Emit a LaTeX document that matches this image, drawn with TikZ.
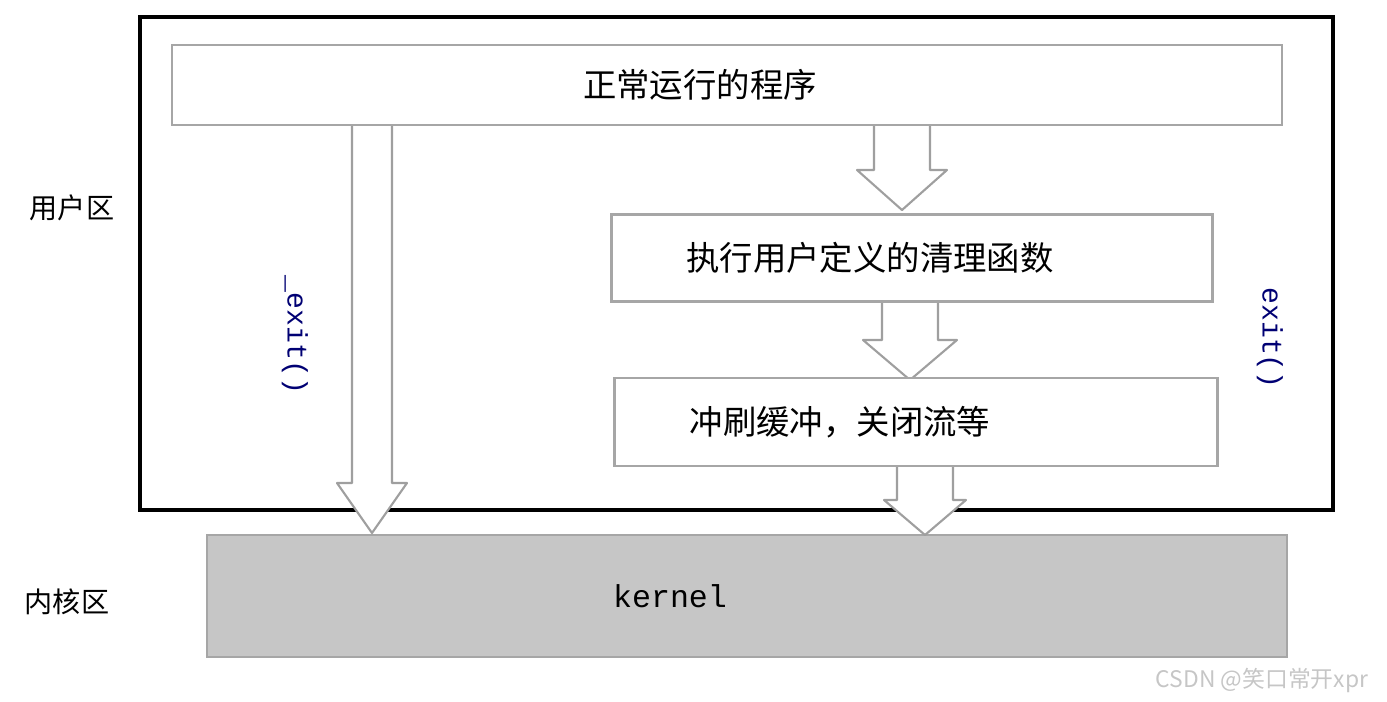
\documentclass[tikz,border=0pt]{standalone}
\usepackage{fontspec}
\newfontfamily\cjk{Noto Sans CJK SC}
\setmonofont{Liberation Mono}
\tikzset{
  stagebox/.style={draw=gray!70,line width=1.2pt,fill=white,inner sep=0pt,
    font=\cjk\fontsize{19}{22}\selectfont},
  blockarr/.style={draw=gray!75,line width=1.2pt,fill=white,line join=round},
  zonelabel/.style={font=\cjk\fontsize{16}{18}\selectfont},
  calllabel/.style={font=\ttfamily\fontsize{16}{18}\selectfont,text=blue!45!black,rotate=-90}
}
% block arrow: x, top y, tip y, half shaft, half head, head length
\newcommand{\blockarrow}[6]{%
  \draw[blockarr] (#1-#4,#2) -- (#1+#4,#2) -- (#1+#4,#3-#6) -- (#1+#5,#3-#6)
    -- (#1,#3) -- (#1-#5,#3-#6) -- (#1-#4,#3-#6) -- cycle;}
\begin{document}
\begin{tikzpicture}[x=0.02cm,y=-0.02cm]
 \useasboundingbox (0,0) rectangle (1387,701);
 \draw[line width=2pt] (140,17) rectangle (1333,510);
 % kernel
 \node[draw=gray!70,line width=1.2pt,fill=gray!45,minimum width=1080*0.02cm,minimum height=122*0.02cm,
   font=\ttfamily\fontsize{18}{20}\selectfont] (kernel) at (747,596) {kernel\kern3.08cm};
 % arrows
 \blockarrow{372}{122}{533}{20}{35}{50}
 \blockarrow{902}{120}{210}{28}{45}{40}
 \blockarrow{910}{292}{380}{28}{47}{40}
 \blockarrow{925}{462}{535}{28}{41}{35}
 % stages
 \node[stagebox,minimum width=1110*0.02cm,minimum height=80*0.02cm] (prog) at (727,85) {正常运行的程序\kern1.08cm};
 \node[stagebox,minimum width=601*0.02cm,minimum height=87*0.02cm] (clean) at (912,258) {执行用户定义的清理函数\kern1.68cm};
 \node[stagebox,minimum width=603*0.02cm,minimum height=88*0.02cm] (flush) at (916,422) {冲刷缓冲，关闭流等\kern3.04cm};
 \node[calllabel] (uexit) at (295,335) {\_exit()};
 \node[calllabel] (exit) at (1270,338) {exit()};
 \node[zonelabel] (user) at (72,208) {用户区};
 \node[zonelabel] (kzone) at (67,602) {内核区};
 \node[font=\cjk\fontsize{13}{15}\selectfont,text=gray!45] (mark) at (1262,680) {CSDN @笑口常开xpr};
\end{tikzpicture}
\end{document}
